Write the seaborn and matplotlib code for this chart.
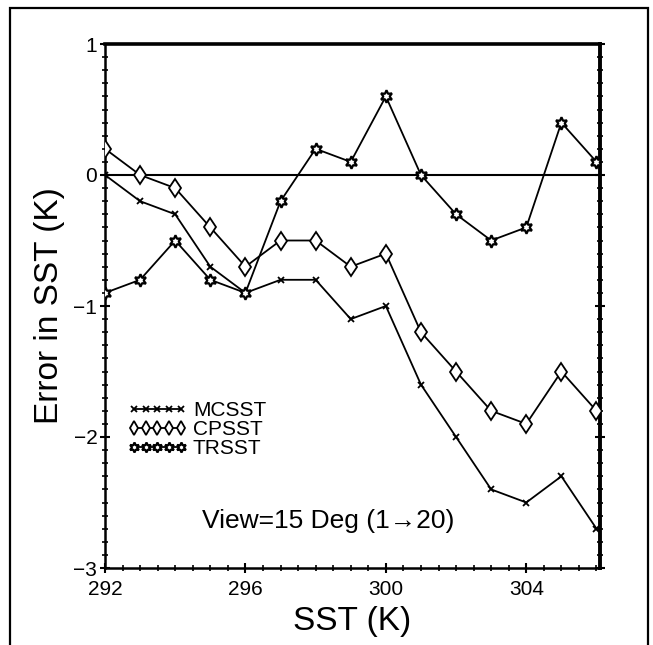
import numpy as np
import pandas as pd
import matplotlib
matplotlib.use("Agg")
import matplotlib.pyplot as plt
import seaborn as sns
from matplotlib.ticker import MultipleLocator, FixedLocator
from matplotlib.patches import Rectangle

# ---- data ----
sst = [292, 293, 294, 295, 296, 297, 298, 299, 300, 301, 302, 303, 304, 305, 306]
mcsst = [0.0, -0.2, -0.3, -0.7, -0.9, -0.8, -0.8, -1.1, -1.0, -1.6, -2.0, -2.4, -2.5, -2.3, -2.7]
cpsst = [0.2, 0.0, -0.1, -0.4, -0.7, -0.5, -0.5, -0.7, -0.6, -1.2, -1.5, -1.8, -1.9, -1.5, -1.8]
trsst = [-0.9, -0.8, -0.5, -0.8, -0.9, -0.2, 0.2, 0.1, 0.6, 0.0, -0.3, -0.5, -0.4, 0.4, 0.1]
series_names = ["MCSST", "CPSST", "TRSST"]
x_ticks = [292, 296, 300, 304]
y_ticks = [-3, -2, -1, 0, 1]
x_label = "SST (K)"
y_label = "Error in SST (K)"
note = "View=15 Deg (1\u219220)"

sns.set_style("ticks")
plt.rcParams["font.family"] = ["Liberation Sans", "DejaVu Sans"]
plt.rcParams["text.color"] = "black"
plt.rcParams["axes.labelcolor"] = "black"

fig = plt.figure(figsize=(6.53, 6.45), dpi=100)
ax = fig.add_axes([105 / 653, 1 - 568 / 645, 495 / 653, 524 / 645])

df = pd.DataFrame({"sst": sst, "MCSST": mcsst, "CPSST": cpsst, "TRSST": trsst})

ax.axhline(0, color="black", lw=1.5, zorder=1)

sns.lineplot(data=df, x="sst", y="MCSST", ax=ax, color="black", lw=1.3,
             marker="x", markersize=5, markeredgewidth=1.3, markeredgecolor="black",
             label=series_names[0], zorder=3)
sns.lineplot(data=df, x="sst", y="CPSST", ax=ax, color="black", lw=1.3,
             marker="d", markersize=9.5, markerfacecolor="white", markeredgecolor="black",
             markeredgewidth=1.3, label=series_names[1], zorder=3)
sns.lineplot(data=df, x="sst", y="TRSST", ax=ax, color="black", lw=1.3,
             marker=(6, 1, 0), markersize=9, markerfacecolor="white", markeredgecolor="black",
             markeredgewidth=1.6, label=series_names[2], zorder=3)

ax.set_xlim(292, 306.1)
ax.set_ylim(-3, 1)
ax.xaxis.set_major_locator(FixedLocator(x_ticks))
ax.yaxis.set_major_locator(FixedLocator(y_ticks))
ax.xaxis.set_minor_locator(MultipleLocator(0.5))
ax.yaxis.set_minor_locator(MultipleLocator(0.1))
ax.set_yticklabels([str(v).replace("-", "\u2212") for v in y_ticks])

ax.tick_params(axis="both", which="major", labelsize=15, width=1.5, length=7,
               direction="inout", color="black", labelcolor="black", pad=2)
ax.tick_params(axis="x", which="major", pad=5)
ax.tick_params(axis="both", which="minor", width=1.2, length=5, direction="inout", color="black")
ax.tick_params(axis="y", which="minor", right=True, left=True)
ax.tick_params(axis="y", which="major", right=True)

for side, w in [("left", 1.8), ("bottom", 1.8), ("top", 2.6), ("right", 2.8)]:
    ax.spines[side].set_visible(True)
    ax.spines[side].set_linewidth(w)
    ax.spines[side].set_color("black")

ax.set_xlabel(x_label, fontsize=24, labelpad=5)
ax.set_ylabel(y_label, fontsize=24, labelpad=6)

leg = ax.legend(loc="upper left", bbox_to_anchor=(0.045, 0.318), frameon=False,
                fontsize=15, numpoints=5, handlelength=2.9, handletextpad=0.25,
                labelspacing=0.0, borderpad=0, borderaxespad=0, markerscale=0.8)

ax.text(0.196, 0.09, note, transform=ax.transAxes, fontsize=19,
        ha="left", va="center", family=["Liberation Sans", "DejaVu Sans"])

# outer frame around the figure (open at the bottom edge)
fig.add_artist(Rectangle((10 / 653, -0.05), (648 - 10) / 653, 1.05 - 8 / 645,
                         transform=fig.transFigure, fill=False, lw=1.6,
                         edgecolor="black", clip_on=False))

fig.savefig("out.png", dpi=100, facecolor="white")
